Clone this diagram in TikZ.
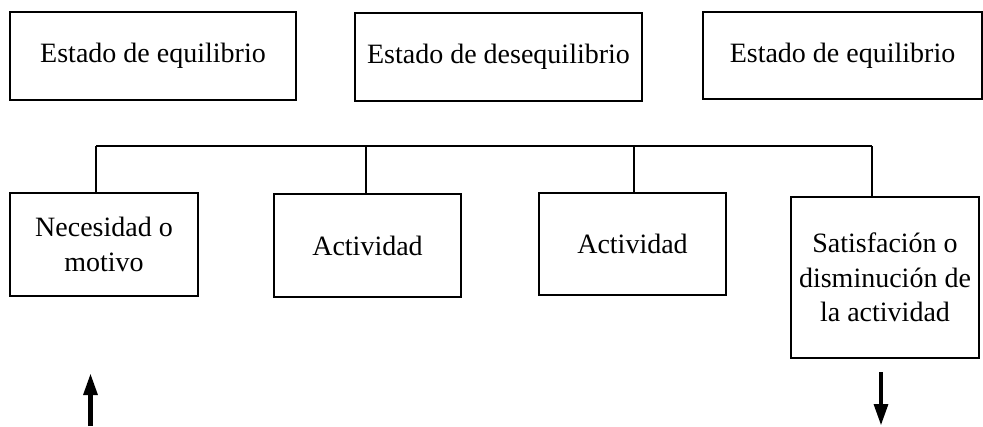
\documentclass[tikz,border=0pt]{standalone}
\usepackage{fontspec}
\setmainfont{Liberation Serif}
\usetikzlibrary{arrows.meta}

\tikzset{
  caja/.style={draw, line width=1.5pt, align=center, inner sep=0pt,
    font=\fontsize{21}{26}\selectfont},
  linea/.style={line width=1.5pt},
  flecha/.style={line width=3.6pt, -{Triangle[length=16.5pt,width=10pt]}},
}

\begin{document}
\begin{tikzpicture}[x=0.75pt,y=0.75pt,yscale=-1,xscale=1]
            \useasboundingbox (0,0) rectangle (983,426);
            %Shape: Rectangle [id:estado1] 
            \node [caja, minimum width=214.5pt, minimum height=66pt] (est1) at (153,56) {Estado de equilibrio};
            %Shape: Rectangle [id:estado2] 
            \node [caja, minimum width=215.25pt, minimum height=66pt] (est2) at (498.5,57) {Estado de desequilibrio};
            %Shape: Rectangle [id:estado3] 
            \node [caja, minimum width=209.25pt, minimum height=65.25pt] (est3) at (842.5,55.5) {Estado de equilibrio};
            %Shape: Rectangle [id:necesidad] 
            \node [caja, minimum width=141pt, minimum height=77.25pt] (nec) at (104,244.5) {Necesidad o\\motivo};
            %Shape: Rectangle [id:actividad1] 
            \node [caja, minimum width=140.25pt, minimum height=77.25pt] (act1) at (367.5,245.5) {Actividad};
            %Shape: Rectangle [id:actividad2] 
            \node [caja, minimum width=140.25pt, minimum height=76.5pt] (act2) at (632.5,244) {Actividad};
            %Shape: Rectangle [id:satisfaccion] 
            \node [caja, minimum width=141pt, minimum height=120.75pt] (sat) at (885,277.5) {Satisfación o\\disminución de\\la actividad};
            
            %Straight Lines [id:barra] 
            \coordinate (t1) at (96,146);
            \coordinate (t2) at (366,146);
            \coordinate (t3) at (634,146);
            \coordinate (t4) at (872,146);
            \draw [linea] (t1) -- (t4);
            \draw [linea] (t1) -- (t1 |- nec.north);
            \draw [linea] (t2) -- (t2 |- act1.north);
            \draw [linea] (t3) -- (t3 |- act2.north);
            \draw [linea] (t4) -- (t4 |- sat.north);
            
            %Straight Lines [id:entrada] 
            \coordinate (entA) at (90.5,426);
            \coordinate (entB) at (90.5,373);
            \draw [flecha] (entA) -- (entB);
            %Straight Lines [id:salida] 
            \coordinate (salA) at (881,372);
            \coordinate (salB) at (881,426);
            \draw [flecha] (salA) -- (salB);
\end{tikzpicture}
\end{document}
